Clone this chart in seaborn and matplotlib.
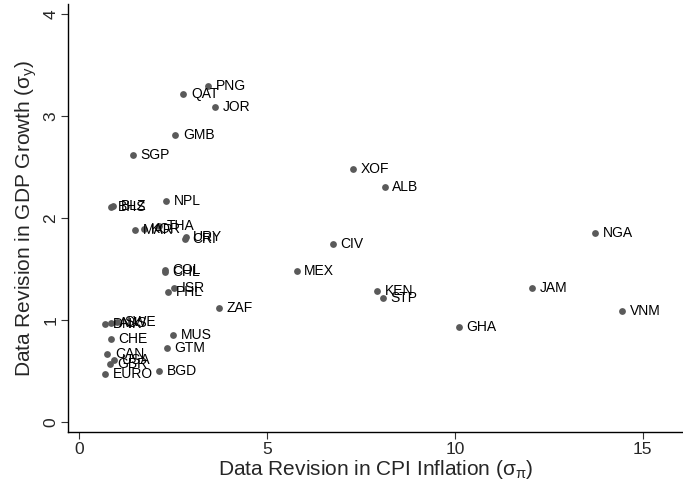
import matplotlib
matplotlib.use('Agg')
import matplotlib.pyplot as plt
import seaborn as sns

# data
countries = ['PNG', 'QAT', 'JOR', 'GMB', 'SGP', 'XOF', 'ALB', 'NPL', 'BLZ', 'BHS',
             'THA', 'KOR', 'MAR', 'URY', 'CRI', 'NGA', 'CIV', 'COL', 'CHL', 'MEX',
             'ISR', 'PHL', 'KEN', 'STP', 'JAM', 'ZAF', 'VNM', 'SWE', 'AUS', 'DNK',
             'GHA', 'MUS', 'CHE', 'GTM', 'CAN', 'USA', 'GBR', 'BGD', 'EURO']
sigma_pi = [3.44, 2.78, 3.62, 2.56, 1.43, 7.30, 8.13, 2.31, 0.90, 0.84,
            2.14, 1.72, 1.50, 2.84, 2.82, 13.74, 6.75, 2.29, 2.28, 5.79,
            2.54, 2.38, 7.94, 8.09, 12.06, 3.72, 14.46, 1.01, 0.85, 0.69,
            10.11, 2.50, 0.84, 2.34, 0.75, 0.93, 0.82, 2.14, 0.69]
sigma_y = [3.30, 3.22, 3.09, 2.81, 2.62, 2.48, 2.30, 2.17, 2.12, 2.11,
           1.92, 1.89, 1.88, 1.81, 1.79, 1.85, 1.74, 1.49, 1.47, 1.48,
           1.31, 1.27, 1.28, 1.215, 1.31, 1.12, 1.09, 0.98, 0.965, 0.955,
           0.93, 0.855, 0.81, 0.72, 0.665, 0.606, 0.567, 0.50, 0.47]

x_ticks = [0, 5, 10, 15]
y_ticks = [0, 1, 2, 3, 4]

sns.set_style('white')
plt.rcParams['font.family'] = ['Liberation Sans', 'DejaVu Sans']
plt.rcParams['mathtext.fontset'] = 'custom'
plt.rcParams['mathtext.rm'] = 'Liberation Sans'
plt.rcParams['mathtext.it'] = 'Liberation Sans:italic'

fig = plt.figure(figsize=(6.83, 4.88), dpi=100)
ax = fig.add_axes([0.0996, 0.1148, 0.9004, 0.877])

sns.scatterplot(x=sigma_pi, y=sigma_y, ax=ax, color='#5a5a5a', s=24,
                linewidth=0, zorder=3)

# country labels to the right of each dot
for lab, xv, yv in zip(countries, sigma_pi, sigma_y):
    ax.annotate(lab, (xv, yv), xytext=(5.5, 0), textcoords='offset points',
                va='center', ha='left', fontsize=10, color='black')

ax.set_xlim(-0.29, 16.07)
ax.set_ylim(-0.10, 4.10)
ax.set_xticks(x_ticks)
ax.set_yticks(y_ticks)
ax.tick_params(axis='both', direction='out', length=5, width=0.8,
               color='#333333', labelsize=12.5, pad=2, bottom=True, left=True)
for t in ax.get_yticklabels():
    t.set_rotation(90)
    t.set_va('center')

for s in ['top', 'right']:
    ax.spines[s].set_visible(False)
for s in ['left', 'bottom']:
    ax.spines[s].set_color('black')
    ax.spines[s].set_linewidth(1.0)

ax.set_xlabel(r'Data Revision in CPI Inflation ($\mathrm{\sigma_{\pi}}$)', fontsize=15, labelpad=1)
ax.set_ylabel(r'Data Revision in GDP Growth ($\mathrm{\sigma_{y}}$)', fontsize=15, labelpad=3)

fig.savefig('out.png', dpi=100)
